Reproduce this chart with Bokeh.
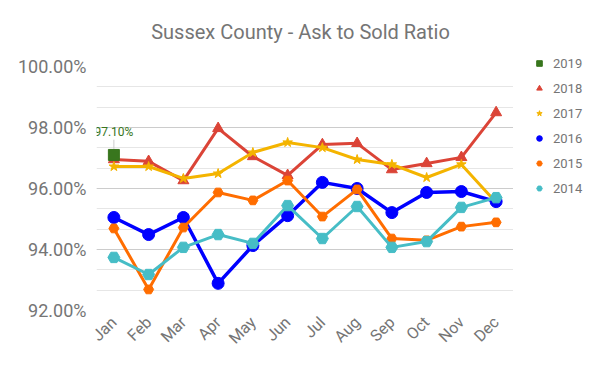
from bokeh.plotting import figure
from bokeh.models import (FactorRange, FixedTicker, PrintfTickFormatter, Legend, LegendItem,
                          ColumnDataSource)
from bokeh.layouts import row, column
from bokeh.core.properties import value
from bokeh.embed import file_html
from bokeh.resources import INLINE
import math

title_text = "Sussex County - Ask to Sold Ratio"
months = ["Jan", "Feb", "Mar", "Apr", "May", "Jun", "Jul", "Aug", "Sep", "Oct", "Nov", "Dec"]

y2019 = [97.10]
y2018 = [96.95, 96.89, 96.26, 97.97, 97.05, 96.43, 97.44, 97.48, 96.62, 96.82, 97.02, 98.49]
y2017 = [96.72, 96.72, 96.33, 96.49, 97.18, 97.51, 97.34, 96.95, 96.79, 96.36, 96.79, 95.54]
y2016 = [95.05, 94.49, 95.05, 92.89, 94.13, 95.11, 96.20, 96.00, 95.21, 95.87, 95.90, 95.57]
y2015 = [94.69, 92.69, 94.72, 95.87, 95.61, 96.26, 95.08, 95.97, 94.36, 94.30, 94.75, 94.89]
y2014 = [93.74, 93.18, 94.07, 94.49, 94.20, 95.44, 94.36, 95.41, 94.07, 94.26, 95.38, 95.70]

y_ticks = [92, 94, 96, 98, 100]
y_minor = [92 + i * 2 / 3 for i in range(13)]

GREY = "#757575"
FONT = "Roboto"

# title strip
tf = figure(width=600, height=50, output_backend="svg", toolbar_location=None,
            min_border=0, x_range=(0, 1), y_range=(0, 1), frame_align=False)
tf.outline_line_color = None
tf.axis.visible = False
tf.grid.visible = False
tf.text(x=[0.5], y=[0.38], text=[title_text], text_align="center", text_baseline="middle",
        text_font=value(FONT), text_font_size="20px", text_color=GREY)

p = figure(x_range=FactorRange(*months), y_range=(92, 100), width=513, height=321,
           output_backend="svg", toolbar_location=None, frame_align=False,
           min_border_left=96, min_border_right=0, min_border_top=16, min_border_bottom=61)
p.outline_line_color = None

# axes
p.yaxis.ticker = FixedTicker(ticks=y_ticks, minor_ticks=y_minor)
p.yaxis.formatter = PrintfTickFormatter(format="%.2f%%")
for ax in (p.xaxis, p.yaxis):
    ax.axis_line_color = None
    ax.major_tick_line_color = None
    ax.minor_tick_line_color = None
    ax.major_label_text_color = GREY
    ax.major_label_text_font = FONT
p.yaxis.major_label_text_font_size = "18px"
p.yaxis.major_label_standoff = 4
p.xaxis.major_label_text_font_size = "16px"
p.xaxis.major_label_orientation = math.pi / 4
p.xaxis.major_label_standoff = 3

p.xgrid.grid_line_color = None
p.ygrid.grid_line_color = "#cccccc"
p.ygrid.grid_line_width = 1
p.ygrid.minor_grid_line_color = "#e6e6e6"

series = [
    ("2018", y2018, "#db4437", "triangle", 11),
    ("2017", y2017, "#f4b400", "star", 10),
    ("2016", y2016, "#0000ff", "circle", 12),
    ("2015", y2015, "#ff6d00", "hex", 10),
    ("2014", y2014, "#46bdc6", "hex", 12),
]
styles = {n: (c, m) for n, _, c, m, _ in series}
styles["2019"] = ("#38761d", "square")

for name, ys, col, mk, sz in series:
    src = ColumnDataSource(dict(x=months, y=ys))
    p.line("x", "y", source=src, line_color=col, line_width=3.5 if name == "2016" else 3)
    p.scatter("x", "y", source=src, marker=mk, size=sz, fill_color=col, line_color=col)

src19 = ColumnDataSource(dict(x=months[:1], y=y2019, t=["%.2f%%" % v for v in y2019]))
p.scatter("x", "y", source=src19, marker="square", size=11, fill_color="#38761d",
          line_color="#38761d")

# data label for 2019
p.segment(x0=months[:1], y0=[y2019[0] + 0.2], x1=months[:1], y1=[y2019[0] + 0.5],
          line_color="#cccccc", line_width=1)
p.text("x", "y", text="t", source=src19, text_color="#38761d", text_font=value(FONT),
       text_font_size="12px", text_align="center", text_baseline="bottom", y_offset=-16)

# legend in its own panel to the right (glyphs only shown in legend)
lf = figure(width=87, height=321, output_backend="svg", toolbar_location=None,
            min_border=0, x_range=(0, 1), y_range=(0, 1), frame_align=False)
lf.outline_line_color = None
lf.axis.visible = False
lf.grid.visible = False
leg_sizes = {"2019": 11, "2018": 13, "2017": 13, "2016": 14, "2015": 14, "2014": 14}
items = []
for n in ["2019", "2018", "2017", "2016", "2015", "2014"]:
    c, m = styles[n]
    r = lf.scatter(x=[5], y=[5], marker=m, size=leg_sizes[n], fill_color=c, line_color=c)
    items.append(LegendItem(label=n, renderers=[r]))
leg = Legend(items=items, location=(19, 173), border_line_color=None,
             background_fill_alpha=0, label_text_font=FONT, label_text_font_size="13px",
             label_text_color=GREY, glyph_width=14, glyph_height=20, label_height=20,
             spacing=5, margin=0, padding=0, label_standoff=7)
lf.add_layout(leg, "center")

open("out.html", "w").write(file_html(column(tf, row(p, lf)), INLINE))
